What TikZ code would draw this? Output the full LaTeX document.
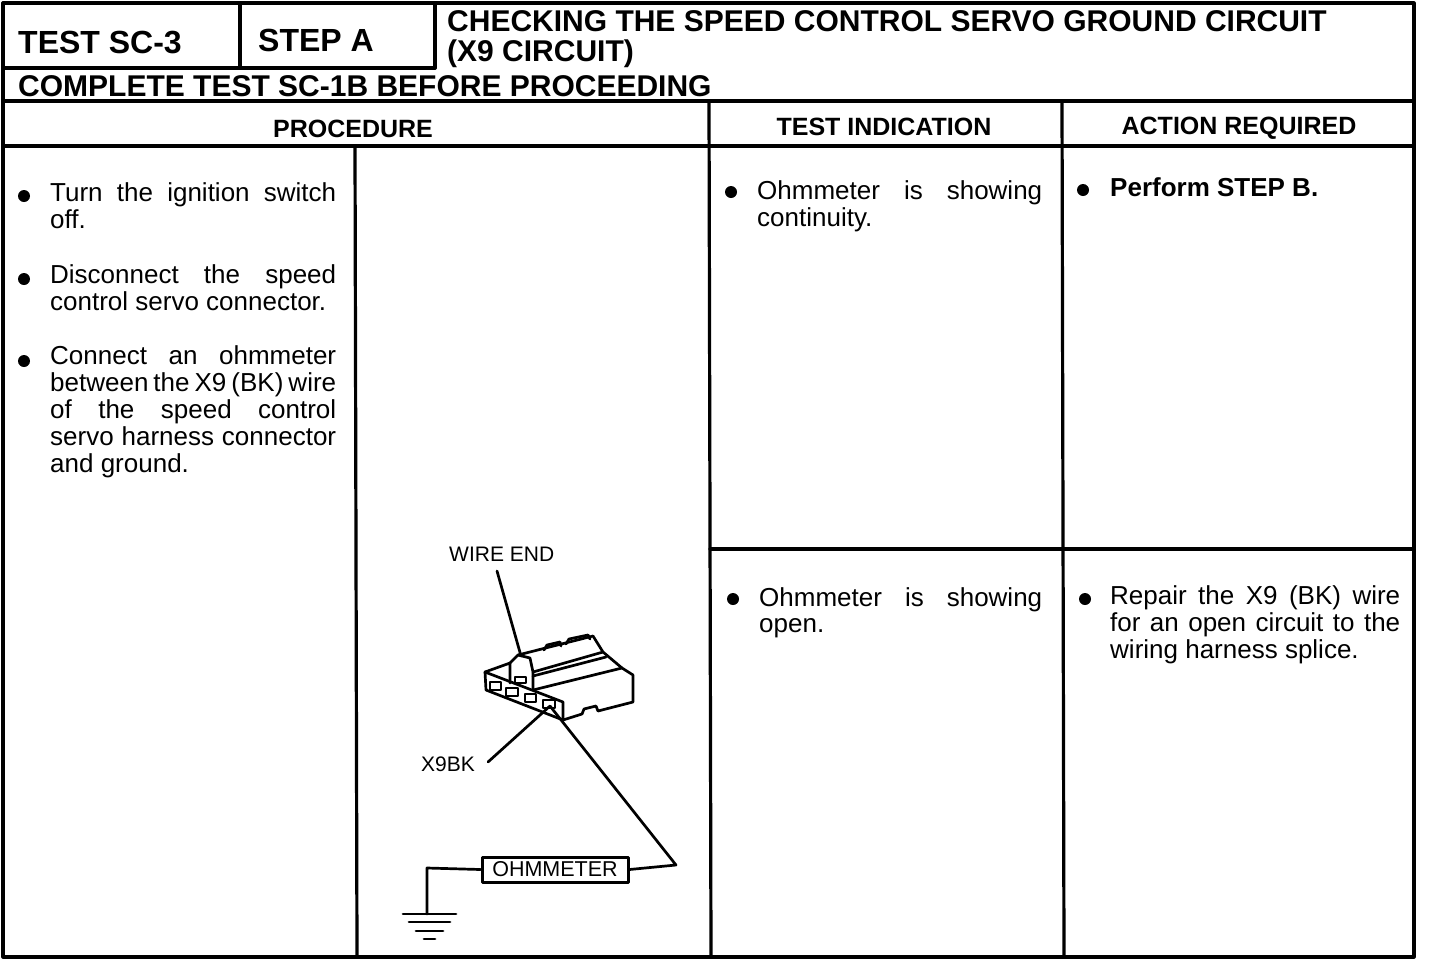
\documentclass[tikz,border=0pt]{standalone}
\usepackage{fontspec}
\setmainfont{Liberation Sans}
\newcommand\jbox[2]{\makebox[#1pt][s]{#2}}
\begin{document}
\begin{tikzpicture}[x=1pt,y=-1pt,line join=round,line cap=round]
\useasboundingbox (0,0) rectangle (1440,962);
\tikzset{
  grid/.style={line width=3.2pt},
  art/.style={line width=2.7pt},
  tl/.style={inner sep=0pt,anchor=base west},
  hbig/.style={tl,font=\bfseries\fontsize{32}{32}\selectfont},
  htitle/.style={tl,font=\bfseries\fontsize{30}{30}\selectfont},
  hcol/.style={inner sep=0pt,anchor=base,font=\bfseries\fontsize{25}{25}\selectfont},
  body/.style={tl,font=\fontsize{26}{27}\selectfont},
  bodyb/.style={tl,font=\bfseries\fontsize{26}{27}\selectfont},
  lbl/.style={tl,font=\fontsize{21}{21}\selectfont},
  dot/.style={circle,fill=black,inner sep=0pt,minimum size=12pt},
  meter/.style={draw,line width=3pt,inner sep=0pt,minimum width=146pt,minimum height=25pt,font=\fontsize{21.5}{21.5}\selectfont},
}
% ---------------- table frame
\draw[grid] (3,3) rectangle (1414,957);
\draw[grid] (240,3) -- (240,68);
\draw[grid] (435,3) -- (435,68);
\draw[grid] (3,68) -- (435,68);
\draw[grid] (3,101) -- (1414,101);
\draw[grid] (3,146) -- (1414,146);
\draw[grid] (709,101) -- (711,957);
\draw[grid] (1062,101) -- (1064,957);
\draw[grid] (355,146) -- (357,957);
\draw[grid] (710,549) -- (1414,549);
% ---------------- header texts
\node[hbig] (t1) at (18,53) {TEST SC-3};
\node[hbig] (t2) at (258,51) {STEP A};
\node[htitle] (t3) at (447,31) {CHECKING THE SPEED CONTROL SERVO GROUND CIRCUIT};
\node[htitle] (t4) at (447,61) {(X9 CIRCUIT)};
\node[htitle] (t5) at (18,96) {COMPLETE TEST SC-1B BEFORE PROCEEDING};
\node[hcol] (c1) at (353,137) {PROCEDURE};
\node[hcol] (c2) at (884,135) {TEST INDICATION};
\node[hcol] (c3) at (1239,134) {ACTION REQUIRED};
% ---------------- procedure text
\node[dot] (b1) at (24,196) {};
\node[body] (p1a) at (50,201) {\jbox{286}{Turn the ignition switch}};
\node[body] (p1b) at (50,228) {off.};
\node[dot] (b2) at (24,279) {};
\node[body] (p2a) at (50,283) {\jbox{286}{Disconnect the speed}};
\node[body] (p2b) at (50,310) {control servo connector.};
\node[dot] (b3) at (24,361) {};
\node[body] (p3a) at (50,364) {\jbox{286}{Connect an ohmmeter}};
\node[body] (p3b) at (50,391) {\jbox{286}{between the X9 (BK) wire}};
\node[body] (p3c) at (50,418) {\jbox{286}{of the speed control}};
\node[body] (p3d) at (50,445) {\jbox{286}{servo harness connector}};
\node[body] (p3e) at (50,472) {and ground.};
% ---------------- test indication / action
\node[dot] (b4) at (731,192) {};
\node[body] (i1a) at (757,199) {\jbox{285}{Ohmmeter is showing}};
\node[body] (i1b) at (757,226) {continuity.};
\node[dot] (b5) at (1083,190) {};
\node[bodyb] (a1) at (1110,196) {Perform STEP B.};
\node[dot] (b6) at (733,599) {};
\node[body] (i2a) at (759,606) {\jbox{283}{Ohmmeter is showing}};
\node[body] (i2b) at (759,632) {open.};
\node[dot] (b7) at (1085,599) {};
\node[body] (a2a) at (1110,604) {\jbox{290}{Repair the X9 (BK) wire}};
\node[body] (a2b) at (1110,631) {\jbox{290}{for an open circuit to the}};
\node[body] (a2c) at (1110,658) {wiring harness splice.};
% ---------------- connector illustration
% socket face
\draw[art] (485,672) -- (486,690) -- (563,720) -- (563,702) -- cycle;
\draw[art] (490,682) rectangle (501,690);
\draw[art] (506,688) rectangle (518,696);
\draw[art] (525,694) rectangle (536,702);
\draw[art] (543,700) rectangle (555,708);
% latch
\draw[art] (485,672) -- (510,663) -- (510,683);
\draw[art] (510,663) -- (518,655) -- (530,658) -- (533,672) -- (533,690);
\draw[art] (515,677) rectangle (526,683);
% upper body
\draw[art] (518,655) -- (593,636) -- (603,652) -- (533,672);
\draw[art] (533,676) -- (606,657);
\draw[art] (544,650) -- (547,645) -- (560,642) -- (561,646);
\draw[art] (566,644) -- (569,639) -- (588,635) -- (590,639);
% right block
\draw[art] (533,690) -- (622,668) -- (633,675) -- (633,702) -- (598,711) -- (596,706) -- (584,709) -- (582,714) -- (563,720);
\draw[art] (603,652) -- (622,668);
% wires and leaders
\coordinate (pin) at (550,706);
\coordinate (wend) at (521,656);
\coordinate (corner) at (676,865);
\coordinate (gtap) at (427,868);
\coordinate (gnd) at (427,914);
\node[lbl] (we) at (449,561) {WIRE END};
\node[lbl] (x9) at (421,771) {X9BK};
\draw[art] (497,571) -- (wend);
\draw[art] (488,762) -- (pin);
\node[meter] (ohm) at (555,869.5) {OHMMETER};
\draw[art] (pin) -- (corner) -- (ohm.east);
\draw[art] (ohm.west) -- (gtap) -- (gnd);
\draw[art] (403,914) -- (456,914);
\draw[art] (409,922) -- (450,922);
\draw[art] (416,931) -- (443,931);
\draw[art] (424,939) -- (435,939);
\end{tikzpicture}
\end{document}
